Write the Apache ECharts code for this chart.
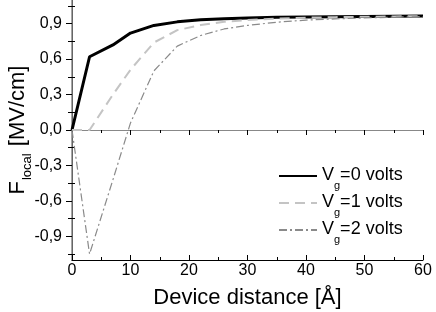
<!DOCTYPE html>
<html>
<head>
<meta charset="utf-8">
<script src="https://cdn.jsdelivr.net/npm/echarts@6/dist/echarts.min.js"></script>
<style>
  html, body { margin: 0; padding: 0; background: #fff; }
  #main { width: 436px; height: 312px; }
</style>
</head>
<body>
<div id="main"></div>
<script>
var dom = document.getElementById('main');
var myChart = echarts.init(dom, null, { renderer: 'canvas' });

// distance in Angstrom
var distance = [0, 3, 7, 10, 14, 18, 22, 26, 30, 35, 40, 45, 50, 55, 60];
// local field [MV/cm] for each gate voltage
var vg0 = [0, 0.62, 0.72, 0.82, 0.885, 0.915, 0.932, 0.942, 0.948, 0.953, 0.956, 0.958, 0.96, 0.962, 0.964];
var vg1 = [0, 0, 0.3, 0.51, 0.74, 0.845, 0.888, 0.915, 0.93, 0.942, 0.95, 0.955, 0.958, 0.961, 0.963];
var vg2 = [0, -1.05, -0.42, 0.06, 0.5, 0.71, 0.8, 0.855, 0.885, 0.912, 0.93, 0.94, 0.948, 0.955, 0.96];
var seriesNames = ['0', '1', '2'];

var yMajor = [-0.9, -0.6, -0.3, 0, 0.3, 0.6, 0.9];
var yMinor = [-1.05, -0.75, -0.45, -0.15, 0.15, 0.45, 0.75, 1.05];
var yAll = yMajor.concat(yMinor);

function pairs(ys) {
    return distance.map(function (x, i) { return [x, ys[i]]; });
}

var font = 'Liberation Sans, Arial, sans-serif';

var option = {
    animation: false,
    grid: { left: 72, right: 13, top: 0, bottom: 52, outerBoundsMode: 'none', containLabel: false },
    legend: {
        orient: 'vertical',
        left: 273,
        top: 161,
        itemWidth: 38,
        itemHeight: 14,
        itemGap: 2,
        itemStyle: { color: 'rgba(0,0,0,0)', borderColor: 'rgba(0,0,0,0)', borderWidth: 0 },
        formatter: function (name) {
            return '{a|V}{b|g}{a|=' + name + ' volts}';
        },
        textStyle: {
            fontFamily: font,
            color: '#000',
            rich: {
                a: { fontSize: 18, fontFamily: font, color: '#000', lineHeight: 20, verticalAlign: 'top' },
                b: { fontSize: 11, fontFamily: font, color: '#000', lineHeight: 11, padding: [14, 0, 0, 0], verticalAlign: 'top' }
            }
        },
        data: seriesNames
    },
    xAxis: [
        {
            type: 'value',
            min: 0,
            max: 60,
            interval: 10,
            name: 'Device distance [Å]',
            nameLocation: 'middle',
            nameGap: 27,
            nameTextStyle: { fontFamily: font, fontSize: 22, color: '#000' },
            axisLine: { onZero: false, lineStyle: { color: '#000', width: 1 } },
            axisTick: { inside: true, length: 5, lineStyle: { color: '#000' } },
            minorTick: { show: true, splitNumber: 2, length: 3, lineStyle: { color: '#000' } },
            axisLabel: { fontFamily: font, fontSize: 16, color: '#000', margin: 3 },
            splitLine: { show: false }
        },
        {
            type: 'value',
            position: 'top',
            min: 0,
            max: 60,
            interval: 10,
            axisLine: { show: true, lineStyle: { color: '#888' } },
            axisTick: { inside: true, length: 5, lineStyle: { color: '#000' } },
            minorTick: { show: true, splitNumber: 2, length: 3, lineStyle: { color: '#000' } },
            axisLabel: { show: false },
            splitLine: { show: false }
        }
    ],
    yAxis: [
        {
            type: 'value',
            min: -1.1,
            max: 1.1,
            name: '{f|F}{s|local}{f| [MV/cm]}',
            nameLocation: 'middle',
            nameGap: 41,
            nameMoveOverlap: false,
            nameTextStyle: {
                fontFamily: font,
                color: '#000',
                rich: {
                    f: { fontSize: 22, fontFamily: font, color: '#000', lineHeight: 24, verticalAlign: 'top' },
                    s: { fontSize: 13, fontFamily: font, color: '#000', lineHeight: 13, padding: [14, 1, 0, 1], verticalAlign: 'top' }
                }
            },
            axisLine: { onZero: false, lineStyle: { color: '#000', width: 1 } },
            axisTick: { customValues: yMajor, length: 6, lineStyle: { color: '#000' } },
            axisLabel: {
                customValues: yMajor,
                fontFamily: font,
                fontSize: 16,
                color: '#000',
                margin: 10,
                formatter: function (v) { return v.toFixed(1).replace('.', ','); }
            },
            splitLine: { show: false }
        },
        {
            type: 'value',
            min: -1.1,
            max: 1.1,
            axisLine: { show: false },
            axisTick: { customValues: yMinor, length: 3, lineStyle: { color: '#000' } },
            axisLabel: { show: false },
            splitLine: { show: false }
        },
        {
            type: 'value',
            position: 'right',
            min: -1.1,
            max: 1.1,
            axisLine: { show: true, lineStyle: { color: '#888', width: 1.5 } },
            axisTick: { customValues: yAll, inside: true, length: 4, lineStyle: { color: '#000' } },
            axisLabel: { show: false },
            splitLine: { show: false }
        }
    ],
    series: [
        {
            name: '0',
            type: 'line',
            symbol: 'none',
            data: pairs(vg0),
            lineStyle: { color: '#000', width: 3 },
            itemStyle: { color: '#000' }
        },
        {
            name: '1',
            type: 'line',
            symbol: 'none',
            data: pairs(vg1),
            lineStyle: { color: '#c4c4c4', width: 2, type: [10, 6] },
            itemStyle: { color: '#c4c4c4' }
        },
        {
            name: '2',
            type: 'line',
            symbol: 'none',
            data: pairs(vg2),
            lineStyle: { color: '#8a8a8a', width: 1.2, type: [8, 3, 2, 3] },
            itemStyle: { color: '#8a8a8a' }
        }
    ]
};

myChart.setOption(option);
window.addEventListener('resize', myChart.resize);
</script>
</body>
</html>
